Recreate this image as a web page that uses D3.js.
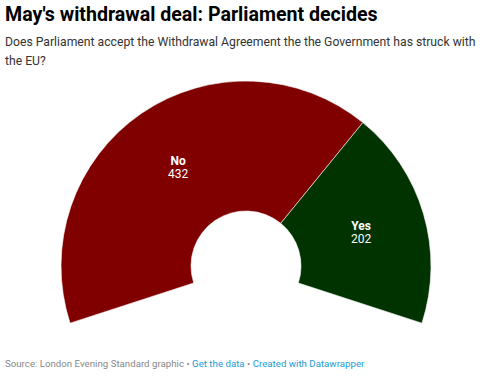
<!DOCTYPE html>
<html>
<head>
<meta charset="utf-8">
<script src="https://cdn.jsdelivr.net/npm/d3@7"></script>
<style>
  body { margin: 0; background: #fff; font-family: Roboto, sans-serif; }
  #chart { width: 495px; height: 386px; }
  .title { font-weight: 700; font-size: 19.6px; fill: #000; }
  .subtitle { font-size: 12.2px; fill: #333; }
  .footer { font-size: 9.7px; fill: #888; }
  .footer .link { fill: #1d9bd6; }
  .label-name { font-weight: 700; font-size: 12px; fill: #fff; }
  .label-value { font-size: 12px; fill: #fff; }
</style>
</head>
<body>
<svg id="chart"></svg>
<script>
// Chart data
const parties = ['No', 'Yes'];
const seats = [432, 202];
const partyColors = ['#800000', '#003300'];

const W = 495, H = 386;
const cx = 246, cy = 266;
const outerR = 185, innerR = 55;
const span = 108 * Math.PI / 180;

const svg = d3.select('#chart')
    .attr('width', W)
    .attr('height', H);

// Header
svg.append('text').attr('class', 'title')
    .attr('x', 5).attr('y', 21)
    .text("May's withdrawal deal: Parliament decides");

svg.append('text').attr('class', 'subtitle')
    .attr('x', 5).attr('y', 46)
    .text('Does Parliament accept the Withdrawal Agreement the the Government has struck with');
svg.append('text').attr('class', 'subtitle')
    .attr('x', 5).attr('y', 65)
    .text('the EU?');

// Donut
const rows = parties.map((p, i) => ({ party: p, value: seats[i], color: partyColors[i] }));

const pie = d3.pie()
    .value(d => d.value)
    .sort(null)
    .startAngle(-span)
    .endAngle(span);

const arc = d3.arc()
    .innerRadius(innerR)
    .outerRadius(outerR);

const g = svg.append('g').attr('transform', `translate(${cx},${cy})`);

const slices = pie(rows);

g.selectAll('path')
    .data(slices)
    .enter()
    .append('path')
    .attr('d', arc)
    .style('fill', d => d.data.color)
    .style('stroke', '#fff')
    .style('stroke-width', 0.6);

const labelArc = d3.arc()
    .innerRadius((innerR + outerR) / 2)
    .outerRadius((innerR + outerR) / 2);

g.selectAll('.label-name')
    .data(slices)
    .enter()
    .append('text')
    .attr('class', 'label-name')
    .attr('text-anchor', 'middle')
    .attr('x', d => labelArc.centroid(d)[0])
    .attr('y', d => labelArc.centroid(d)[1] - 2)
    .text(d => d.data.party);

g.selectAll('.label-value')
    .data(slices)
    .enter()
    .append('text')
    .attr('class', 'label-value')
    .attr('text-anchor', 'middle')
    .attr('x', d => labelArc.centroid(d)[0])
    .attr('y', d => labelArc.centroid(d)[1] + 11)
    .text(d => d.data.value);

// Footer
const foot = svg.append('text').attr('class', 'footer')
    .attr('x', 5).attr('y', 367);
foot.append('tspan').text('Source: London Evening Standard graphic • ');
foot.append('tspan').attr('class', 'link').text('Get the data');
foot.append('tspan').text(' • ');
foot.append('tspan').attr('class', 'link').text('Created with Datawrapper');
</script>
</body>
</html>
